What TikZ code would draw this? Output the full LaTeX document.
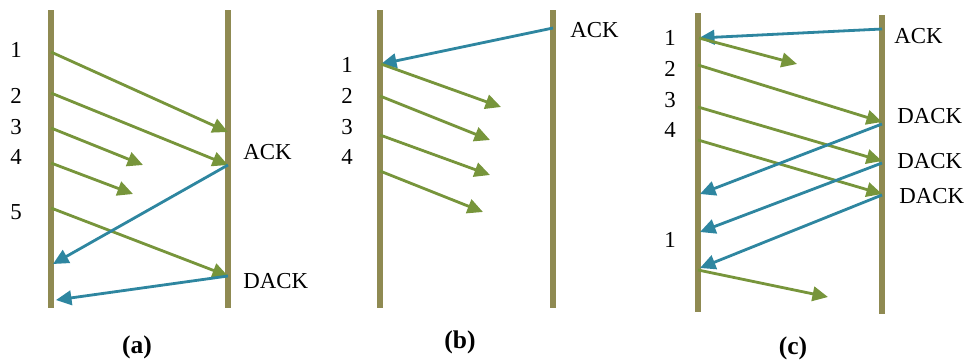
\documentclass[tikz,border=0pt]{standalone}
\usepackage{fontspec}
\setmainfont{Liberation Serif}
\usepackage{xcolor}
\usetikzlibrary{arrows.meta}
\definecolor{wireol}{HTML}{8F8A52}
\definecolor{pktgreen}{HTML}{77953B}
\definecolor{ackblue}{HTML}{2E86A0}
\begin{document}
\begin{tikzpicture}[
  x=0.02cm, y=-0.02cm,
  font=\fontsize{13}{15}\selectfont,
  wire/.style={draw=wireol, line width=2.9pt},
  pkt/.style={draw=pktgreen, line width=1.6pt, -{Triangle[length=3.1mm, width=2.9mm]}},
  ack/.style={draw=ackblue, line width=1.6pt, -{Triangle[length=3.1mm, width=2.9mm]}},
  num/.style={inner sep=0pt},
  tag/.style={inner sep=0pt},
  subcap/.style={inner sep=0pt, font=\fontsize{14.5}{16}\selectfont\bfseries}
]
\useasboundingbox (0,0) rectangle (965,362);

% Panel (a)
\coordinate (aLt) at (51,10);  \coordinate (aLb) at (51,308);
\coordinate (aRt) at (228,10); \coordinate (aRb) at (228,308);
\draw[wire] (aLt) -- (aLb);
\draw[wire] (aRt) -- (aRb);
\coordinate (a1) at (51,52);   \coordinate (a1e) at (228,132);
\coordinate (a2) at (51,93);   \coordinate (a2e) at (228,165);
\coordinate (a3) at (51,128);  \coordinate (a3e) at (143,165);
\coordinate (a4) at (51,163);  \coordinate (a4e) at (133,194);
\coordinate (a5) at (51,208);  \coordinate (a5e) at (228,276);
\coordinate (aAck) at (53,264);
\coordinate (aDack) at (56,300);
\draw[pkt] (a1) -- (a1e);
\draw[pkt] (a2) -- (a2e);
\draw[pkt] (a3) -- (a3e);
\draw[pkt] (a4) -- (a4e);
\draw[pkt] (a5) -- (a5e);
\draw[ack] (a2e) -- (aAck);
\draw[ack] (a5e) -- (aDack);
\node[num] (an1) at (16,50) {1};
\node[num] (an2) at (16,96) {2};
\node[num] (an3) at (16,127) {3};
\node[num] (an4) at (16,157) {4};
\node[num] (an5) at (16,212) {5};
\node[tag, anchor=west] (aack) at (243,152) {ACK};
\node[tag, anchor=west] (adack) at (243,281) {DACK};
\node[subcap] (capa) at (137,347) {(a)};

% Panel (b)
\coordinate (bLt) at (380,10);  \coordinate (bLb) at (380,308);
\coordinate (bRt) at (553,10);  \coordinate (bRb) at (553,308);
\draw[wire] (bLt) -- (bLb);
\draw[wire] (bRt) -- (bRb);
\coordinate (bA) at (553,28);
\coordinate (b1) at (381,64);  \coordinate (b1e) at (501,107);
\coordinate (b2) at (380,96);  \coordinate (b2e) at (490,140);
\coordinate (b3) at (380,135); \coordinate (b3e) at (490,175);
\coordinate (b4) at (380,171); \coordinate (b4e) at (483,212);
\draw[ack] (bA) -- (b1);
\draw[pkt] (b1) -- (b1e);
\draw[pkt] (b2) -- (b2e);
\draw[pkt] (b3) -- (b3e);
\draw[pkt] (b4) -- (b4e);
\node[num] (bn1) at (347,65) {1};
\node[num] (bn2) at (347,96) {2};
\node[num] (bn3) at (347,127) {3};
\node[num] (bn4) at (347,157) {4};
\node[tag, anchor=west] (back) at (570,30) {ACK};
\node[subcap] (capb) at (460,342) {(b)};

% Panel (c)
\coordinate (cLt) at (698,13);  \coordinate (cLb) at (698,312);
\coordinate (cRt) at (882,15);  \coordinate (cRb) at (882,314);
\draw[wire] (cLt) -- (cLb);
\draw[wire] (cRt) -- (cRb);
\coordinate (cA) at (882,29);
\coordinate (c1) at (699,38);  \coordinate (c1e) at (797,64);
\coordinate (c2) at (698,65);  \coordinate (c2e) at (882,122);
\coordinate (c3) at (698,107); \coordinate (c3e) at (882,161);
\coordinate (c4) at (698,140); \coordinate (c4e) at (882,194);
\coordinate (cD1) at (882,124); \coordinate (cD1e) at (700,194);
\coordinate (cD2) at (882,163); \coordinate (cD2e) at (700,232);
\coordinate (cD3) at (882,195); \coordinate (cD3e) at (700,268);
\coordinate (c5) at (698,270); \coordinate (c5e) at (828,297);
\draw[ack] (cA) -- (c1);
\draw[pkt] (c1) -- (c1e);
\draw[pkt] (c2) -- (c2e);
\draw[pkt] (c3) -- (c3e);
\draw[pkt] (c4) -- (c4e);
\draw[ack] (cD1) -- (cD1e);
\draw[ack] (cD2) -- (cD2e);
\draw[ack] (cD3) -- (cD3e);
\draw[pkt] (c5) -- (c5e);
\node[num] (cn1) at (670,38) {1};
\node[num] (cn2) at (670,69) {2};
\node[num] (cn3) at (670,100) {3};
\node[num] (cn4) at (670,130) {4};
\node[num] (cn5) at (670,240) {1};
\node[tag, anchor=west] (cack) at (894,36) {ACK};
\node[tag, anchor=west] (cdack1) at (897,116) {DACK};
\node[tag, anchor=west] (cdack2) at (897,161) {DACK};
\node[tag, anchor=west] (cdack3) at (899,196) {DACK};
\node[subcap] (capc) at (793,348) {(c)};
\end{tikzpicture}
\end{document}
